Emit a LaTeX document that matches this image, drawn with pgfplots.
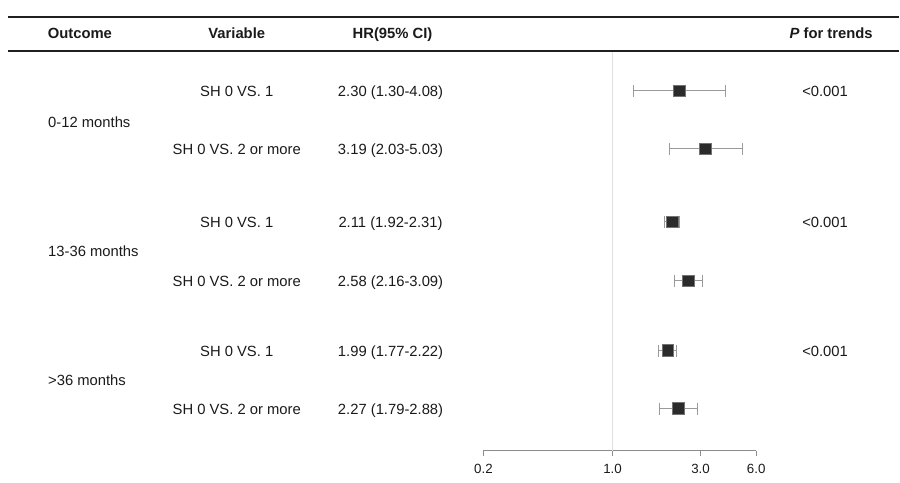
\documentclass[border=0pt]{standalone}
\usepackage{pgfplots}
\pgfplotsset{compat=1.18}
\usepackage{fontspec}
\setmainfont{Liberation Sans}
\definecolor{txt}{HTML}{1A1A1A}
\definecolor{rulec}{HTML}{1F1F1F}
\definecolor{cigray}{HTML}{9A9A9A}
\definecolor{refgray}{HTML}{E0E0E0}
\definecolor{boxfill}{HTML}{2B2B2B}
\definecolor{axgray}{HTML}{8C8C8C}
\begin{document}
\begin{tikzpicture}
\begin{scope}[x=0.75pt,y=-0.75pt,every node/.style={text=txt,font=\fontsize{11.1}{13}\selectfont,inner sep=0pt}]
\path (0,0) rectangle (900,483);
\draw[line width=1.5pt, rulec] (8,17) -- (900,17);
\draw[line width=1.5pt, rulec] (8,51) -- (900,51);
% header
\node[anchor=base,font=\fontsize{11.1}{13}\selectfont\bfseries] at (80,38.5) {Outcome};
\node[anchor=base,font=\fontsize{11.1}{13}\selectfont\bfseries] at (237,38.5) {Variable};
\node[anchor=base,font=\fontsize{11.1}{13}\selectfont\bfseries] at (393,38.5) {HR(95\% CI)};
\node[anchor=base,font=\fontsize{11.1}{13}\selectfont\bfseries] at (832,38.5) {\textit{P} for trends};
% outcome labels
\node[anchor=base west] at (48,127.5) {0-12 months};
\node[anchor=base west] at (48,256.5) {13-36 months};
\node[anchor=base west] at (48,385.5) {>36 months};
% variables
\node[anchor=base] at (237,96.5) {SH 0 VS. 1};
\node[anchor=base] at (237,154.5) {SH 0 VS. 2 or more};
\node[anchor=base] at (237,227.5) {SH 0 VS. 1};
\node[anchor=base] at (237,286.5) {SH 0 VS. 2 or more};
\node[anchor=base] at (237,356.5) {SH 0 VS. 1};
\node[anchor=base] at (237,414.5) {SH 0 VS. 2 or more};
% HR
\node[anchor=base] at (391,96.5) {2.30 (1.30-4.08)};
\node[anchor=base] at (391,154.5) {3.19 (2.03-5.03)};
\node[anchor=base] at (391,227.5) {2.11 (1.92-2.31)};
\node[anchor=base] at (391,286.5) {2.58 (2.16-3.09)};
\node[anchor=base] at (391,356.5) {1.99 (1.77-2.22)};
\node[anchor=base] at (391,414.5) {2.27 (1.79-2.88)};
% P
\node[anchor=base] at (826,96.5) {<0.001};
\node[anchor=base] at (826,227.5) {<0.001};
\node[anchor=base] at (826,356.5) {<0.001};
\end{scope}
\begin{axis}[
  at={(363pt,-39pt)}, anchor=north west,
  scale only axis, width=204.75pt, height=299.25pt,
  xmode=log, xmin=0.2, xmax=6, ymin=-451, ymax=-52,
  axis x line*=bottom, axis y line=none,
  axis line style={axgray, line width=0.75pt, -},
  xtick={0.2,1,3,6}, xticklabels={0.2,1.0,3.0,6.0},
  minor xtick={}, tick align=outside, major tick length=4pt,
  tick style={axgray, line width=0.75pt},
  xticklabel style={font=\fontsize{10}{12}\selectfont, text=txt, yshift=-2.5pt},
  clip=false,
]
\draw[refgray, line width=0.8pt] (axis cs:1,-52) -- (axis cs:1,-451);
\pgfplotsset{ci/.style={cigray, line width=0.75pt, mark=|, mark size=4.5pt, mark options={solid, cigray, line width=0.75pt}}}
\addplot[ci] coordinates {(1.30,-91) (4.08,-91)};
\addplot[ci] coordinates {(2.03,-149) (5.03,-149)};
\addplot[ci] coordinates {(1.92,-222) (2.31,-222)};
\addplot[ci] coordinates {(2.16,-281) (3.09,-281)};
\addplot[ci] coordinates {(1.77,-351) (2.22,-351)};
\addplot[ci] coordinates {(1.79,-409) (2.88,-409)};
\addplot[only marks, mark=square*, mark size=4.4pt, mark options={fill=boxfill, draw=black!55, line width=0.4pt}] coordinates {
(2.30,-91) (3.19,-149) (2.11,-222) (2.58,-281) (1.99,-351) (2.27,-409)};
\end{axis}
\end{tikzpicture}
\end{document}
